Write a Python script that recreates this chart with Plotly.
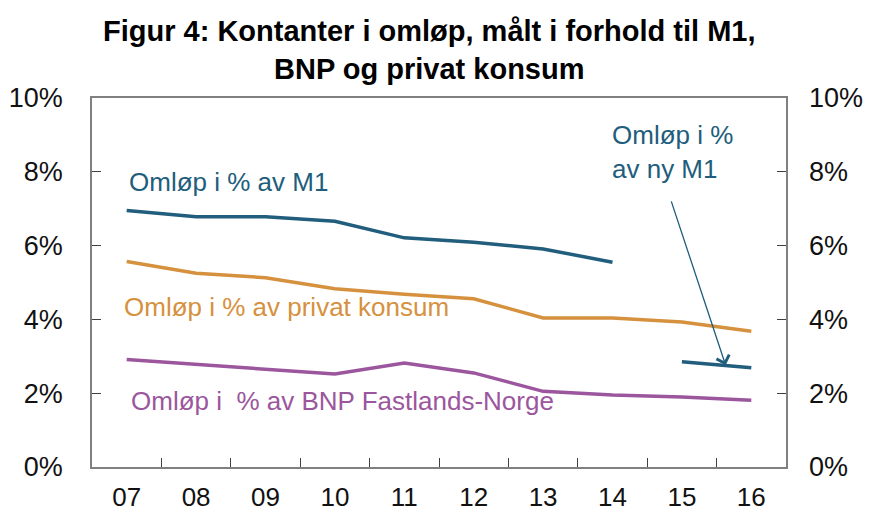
import plotly.graph_objects as go

years = ["07", "08", "09", "10", "11", "12", "13", "14", "15", "16"]
m1 = [6.95, 6.78, 6.78, 6.66, 6.21, 6.09, 5.91, 5.55, None, None]
ny_m1 = [None, None, None, None, None, None, None, None, 2.85, 2.69]
privat_konsum = [5.57, 5.25, 5.13, 4.83, 4.68, 4.56, 4.04, 4.04, 3.93, 3.68]
bnp_fastland = [2.91, 2.78, 2.67, 2.52, 2.82, 2.55, 2.05, 1.95, 1.90, 1.81]
y_ticks = [0, 2, 4, 6, 8, 10]

BLUE = "#215d7c"
ORANGE = "#d6913e"
PURPLE = "#9b569d"
FONT = "Liberation Sans, Arial, sans-serif"
AXIS = "#808080"

xi = list(range(len(years)))

fig = go.Figure()
fig.add_trace(go.Scatter(x=xi, y=m1, mode="lines", line=dict(color=BLUE, width=3.5),
                         showlegend=False, hoverinfo="skip"))
fig.add_trace(go.Scatter(x=xi, y=privat_konsum, mode="lines", line=dict(color=ORANGE, width=3.5),
                         showlegend=False, hoverinfo="skip"))
fig.add_trace(go.Scatter(x=xi, y=bnp_fastland, mode="lines", line=dict(color=PURPLE, width=3.5),
                         showlegend=False, hoverinfo="skip"))
fig.add_trace(go.Scatter(x=xi, y=ny_m1, mode="lines", line=dict(color=BLUE, width=3.5),
                         showlegend=False, hoverinfo="skip", yaxis="y2"))

tick_text = [f"{v}%" for v in y_ticks]
tick_font = dict(family=FONT, size=27, color="#111111")

fig.update_layout(
    width=864, height=505,
    margin=dict(l=84, r=86, t=90, b=46),
    paper_bgcolor="white", plot_bgcolor="white",
    xaxis=dict(range=[-0.5, 9.5], tickmode="array", tickvals=xi, ticktext=years,
               ticks="", showgrid=False, zeroline=False, automargin=False,
               showline=True, linecolor=AXIS, linewidth=1.5, mirror=True,
               tickfont=dict(family=FONT, size=26, color="#111111"), ticklabelstandoff=6,
               minor=dict(tickmode="array", tickvals=[i + 0.5 for i in xi[:-1]],
                          ticks="inside", ticklen=9, tickcolor="#404040", tickwidth=1)),
    yaxis=dict(range=[0, 10], tickmode="array", tickvals=y_ticks, ticktext=tick_text,
               ticks="inside", ticklen=9, tickcolor="#404040", tickwidth=1,
               showgrid=False, zeroline=False, automargin=False,
               showline=True, linecolor=AXIS, linewidth=1.5, mirror=True,
               tickfont=tick_font, ticklabelstandoff=22),
    yaxis2=dict(range=[0, 10], overlaying="y", side="right", tickmode="array",
                tickvals=y_ticks, ticktext=tick_text, automargin=False,
                ticks="inside", ticklen=9, tickcolor="#404040", tickwidth=1,
                showgrid=False, zeroline=False, showline=False,
                tickfont=tick_font, ticklabelstandoff=22),
)

fig.add_annotation(x=0.487, y=1.03, xref="paper", yref="paper", xanchor="center", yanchor="bottom",
                   text="<b>Figur 4: Kontanter i omløp, målt i forhold til M1,<br>BNP og privat konsum</b>",
                   showarrow=False, align="center",
                   font=dict(family=FONT, size=29, color="#000000"))

ann_font = lambda c: dict(family=FONT, size=26, color=c)
fig.add_annotation(x=0.0, y=7.72, xref="x", yref="y", text="Omløp i % av M1",
                   showarrow=False, xanchor="left", yanchor="middle", font=ann_font(BLUE))
fig.add_annotation(x=-0.07, y=4.34, xref="x", yref="y", text="Omløp i % av privat konsum",
                   showarrow=False, xanchor="left", yanchor="middle", font=ann_font(ORANGE))
fig.add_annotation(x=0.03, y=1.79, xref="x", yref="y", text="Omløp i\u00a0 % av BNP Fastlands-Norge",
                   showarrow=False, xanchor="left", yanchor="middle", font=ann_font(PURPLE))
fig.add_annotation(x=6.97, y=8.54, xref="x", yref="y", text="Omløp i %<br>av ny M1",
                   showarrow=False, xanchor="left", yanchor="middle", align="left",
                   font=ann_font(BLUE))
fig.add_annotation(x=8.63, y=2.76, xref="x", yref="y", ax=7.84, ay=7.24, axref="x", ayref="y",
                   text="", showarrow=True, arrowhead=4, arrowsize=2.0, arrowwidth=1.3,
                   arrowcolor=BLUE)

fig.write_html("out.html")
